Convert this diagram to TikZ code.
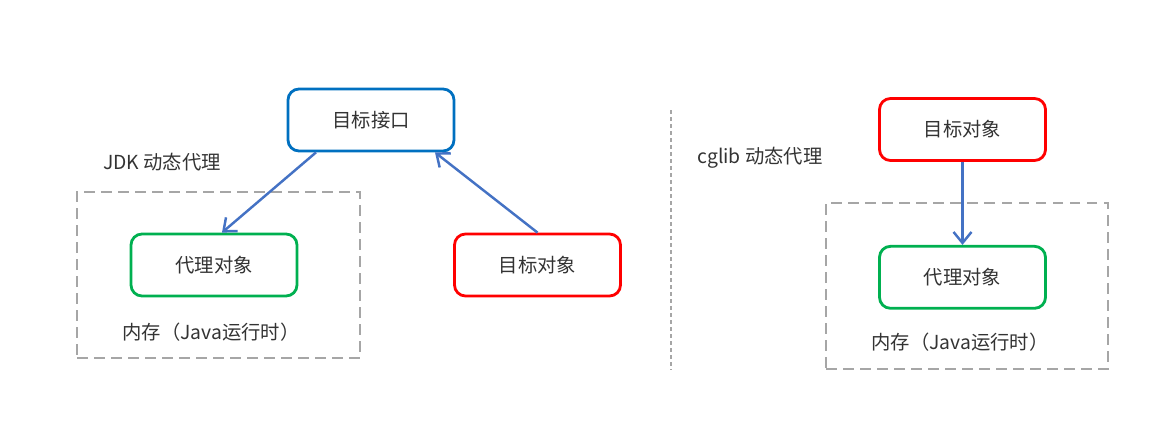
\documentclass[tikz,border=0pt]{standalone}
\usepackage{fontspec}
\setmainfont{Noto Sans CJK SC}
\usepackage{xcolor}
\usepackage{tikz}
\usetikzlibrary{arrows.meta,positioning,calc}

\definecolor{boxblue}{RGB}{0,112,192}
\definecolor{boxred}{RGB}{255,0,0}
\definecolor{boxgreen}{RGB}{0,176,80}
\definecolor{arrblue}{RGB}{68,114,196}
\definecolor{memgray}{RGB}{166,166,166}

\begin{document}
\begin{tikzpicture}[
    node distance=1.4cm and 1.8cm,
    font=\fontsize{11pt}{13pt}\selectfont, text=black!80,
    bx/.style={rectangle, line width=1.6pt, rounded corners=0.22cm, align=center, minimum height=1.24cm, minimum width=3.32cm, fill=white},
    b1/.style={bx, draw=boxblue},
    b2/.style={bx, draw=boxgreen},
    b3/.style={bx, draw=boxred},
    mem/.style={rectangle, draw=memgray, line width=1.4pt, dash pattern=on 0.21cm off 0.13cm},
    arr/.style={-{Straight Barb[length=0.22cm, width=0.36cm, line width=1.4pt]}, line width=1.4pt, draw=arrblue}
]
    \useasboundingbox (0,0) rectangle (23.42,-8.4);

    \node [mem, minimum width=5.66cm, minimum height=3.32cm] (mem1) at (4.37,-5.50) {};
    \node [mem, minimum width=5.64cm, minimum height=3.32cm] (mem2) at (19.34,-5.72) {};

    \node [b1] (n1) at (7.42,-2.40) {目标接口};
    \node [b2] (n2) at (4.28,-5.30) {代理对象};
    \node [b3] (n3) at (10.75,-5.30) {目标对象};
    \node (t1) at (3.24,-3.24) {JDK 动态代理};
    \node (m1) at (4.22,-6.64) {内存（Java运行时）};

    \node [b3] (n4) at (19.25,-2.59) {目标对象};
    \node [b2, below=1.66cm of n4] (n5) {代理对象};
    \node (t2) at (15.2,-3.16) {cglib 动态代理};
    \node (m2) at (19.2,-6.84) {内存（Java运行时）};

    \coordinate (s1) at (13.42,-2.2);
    \coordinate (s2) at (13.42,-7.4);
    \draw [memgray, line width=0.6pt, dash pattern=on 0.08cm off 0.06cm] (s1) -- (s2);

    \draw [arr] ($(n1.south)+(-1.1,0)$) -- ($(n2.north)+(0.16,0)$);
    \draw [arr] (n3.north) -- ($(n1.south)+(1.28,0)$);
    \draw [arr] (n4) -- (n5);
\end{tikzpicture}
\end{document}
